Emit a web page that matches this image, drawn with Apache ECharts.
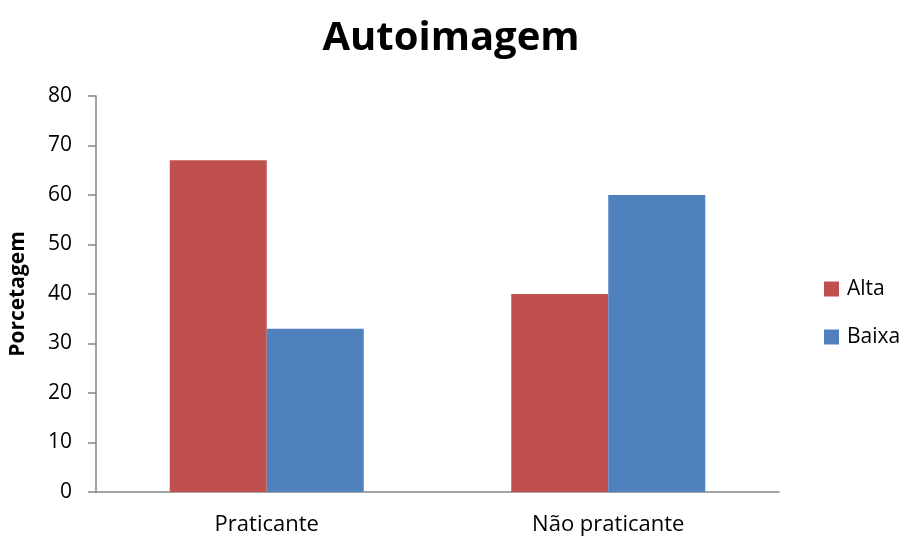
<!DOCTYPE html>
<html>
<head>
<meta charset="utf-8">
<script src="https://cdn.jsdelivr.net/npm/echarts@6/dist/echarts.min.js"></script>
<style>
  html, body { margin: 0; padding: 0; background: #fff; }
  #chart { width: 902px; height: 538px; }
</style>
</head>
<body>
<div id="chart"></div>
<script>
// Self-image ("Autoimagem") share by practice group
const categories = ['Praticante', 'Não praticante'];
const alta = [67, 40];
const baixa = [33, 60];
const yTicks = [0, 10, 20, 30, 40, 50, 60, 70, 80];

const font = '"Open Sans", "Noto Sans", sans-serif';
const axisGray = '#868686';

const chart = echarts.init(document.getElementById('chart'));
chart.setOption({
  backgroundColor: '#ffffff',
  animation: false,
  title: {
    text: 'Autoimagem',
    left: 'center',
    top: 14,
    textStyle: { fontFamily: font, fontSize: 40, fontWeight: 'bold', color: '#000' }
  },
  legend: {
    orient: 'vertical',
    left: 824,
    top: 278,
    padding: 0,
    itemWidth: 15,
    itemHeight: 15,
    itemGap: 26,
    icon: 'rect',
    textStyle: { fontFamily: font, fontSize: 21, lineHeight: 22, color: '#000', padding: [0, 0, 0, 3] },
    data: ['Alta', 'Baixa']
  },
  grid: { left: 95, right: 123, top: 96, bottom: 46 },
  xAxis: {
    type: 'category',
    data: categories,
    axisLine: { lineStyle: { color: axisGray, width: 1.5 } },
    axisTick: { show: false },
    axisLabel: { fontFamily: font, fontSize: 22, color: '#000', margin: 22 }
  },
  yAxis: {
    type: 'value',
    min: yTicks[0],
    max: yTicks[yTicks.length - 1],
    interval: 10,
    name: 'Porcetagem',
    nameLocation: 'middle',
    nameGap: 67,
    nameTextStyle: { fontFamily: font, fontSize: 21, fontWeight: 'bold', color: '#000' },
    axisLine: { show: true, lineStyle: { color: axisGray, width: 1.5 } },
    axisTick: { show: true, length: 8, lineStyle: { color: axisGray, width: 1.5 } },
    splitLine: { show: false },
    axisLabel: { fontFamily: font, fontSize: 21, color: '#000', margin: 24 }
  },
  series: [
    {
      name: 'Alta',
      type: 'bar',
      data: alta,
      barWidth: 97,
      barGap: '0%',
      itemStyle: { color: '#C0504D' }
    },
    {
      name: 'Baixa',
      type: 'bar',
      data: baixa,
      barWidth: 97,
      barGap: '0%',
      itemStyle: { color: '#4F81BD' }
    }
  ]
});
</script>
</body>
</html>
